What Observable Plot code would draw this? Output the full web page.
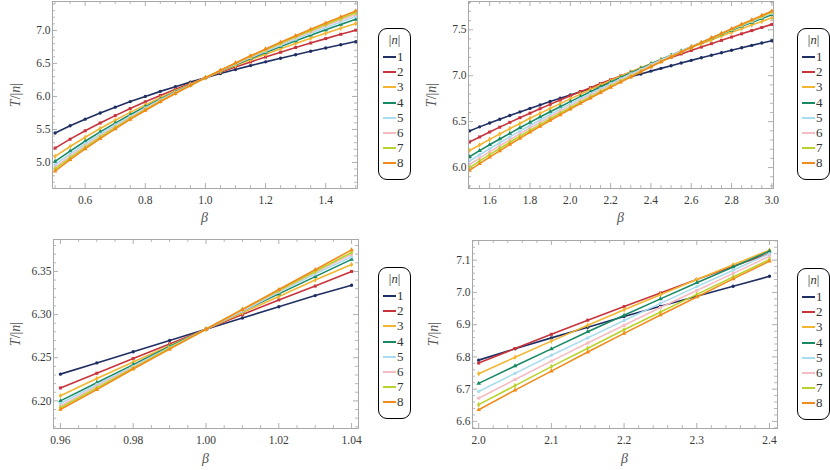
<!DOCTYPE html>
<html><head><meta charset="utf-8">
<script src="https://cdn.jsdelivr.net/npm/d3@7"></script>
<script src="https://cdn.jsdelivr.net/npm/@observablehq/plot@0.6"></script>
<style>
html,body{margin:0;padding:0;background:#fff}
body{width:830px;height:470px;position:relative;overflow:hidden;font-family:"Liberation Serif","DejaVu Serif",serif}
.panel{position:absolute}
.panel svg text{font-family:"Liberation Serif","DejaVu Serif",serif !important;font-size:11.5px !important;fill:#3a3a3a}
.legend{position:absolute;border:1.3px solid #000;border-radius:9px;box-sizing:border-box;background:#fff;width:33px;height:152px}
.legend .ttl{position:absolute;left:0;width:100%;text-align:center;font-size:12.5px;color:#333}
.legend .it{position:absolute;left:4px;font-size:13px;color:#333;line-height:12px}
.legend .sw{display:inline-block;width:13px;height:2px;vertical-align:middle;margin-right:1px;position:relative;top:-1px}
.xl{position:absolute;font-style:italic;font-size:14px;color:#555;transform:translateX(-50%)}
.yl{position:absolute;font-size:14px;color:#555;transform:translate(-50%,-50%) rotate(-90deg);white-space:nowrap}
</style>
</head><body>
<script>
// ---------- data ----------
const nValues = [1, 2, 3, 4, 5, 6, 7, 8];
const nColors = ["#1f2f63", "#c8343c", "#f2b632", "#178a63", "#a9dcf0", "#f6bcc3", "#b9d32c", "#f28a1a"];
const nSymbols = ["circle", "square", "diamond", "triangle", "circle", "square", "diamond", "triangle"];

// panel A: beta 0.5 .. 1.5
const betaA = [0.5,0.55,0.6,0.65,0.7,0.75,0.8,0.85,0.9,0.95,1.0,1.05,1.1,1.15,1.2,1.25,1.3,1.35,1.4,1.45,1.5];
const TA_n1 = [5.447,5.556,5.656,5.750,5.838,5.922,6.001,6.077,6.148,6.217,6.283,6.347,6.408,6.467,6.524,6.579,6.632,6.684,6.734,6.783,6.831];
const TA_n2 = [5.218,5.353,5.480,5.598,5.710,5.817,5.919,6.016,6.108,6.197,6.283,6.366,6.446,6.523,6.598,6.670,6.741,6.809,6.876,6.941,7.004];
const TA_n3 = [5.093,5.242,5.382,5.515,5.640,5.759,5.872,5.981,6.086,6.186,6.283,6.377,6.467,6.555,6.640,6.722,6.803,6.881,6.957,7.032,7.104];
const TA_n4 = [5.016,5.173,5.322,5.463,5.596,5.722,5.844,5.960,6.072,6.179,6.283,6.384,6.481,6.575,6.667,6.756,6.842,6.927,7.009,7.090,7.168];
const TA_n5 = [4.967,5.130,5.284,5.430,5.568,5.699,5.826,5.946,6.063,6.175,6.283,6.388,6.489,6.588,6.684,6.777,6.868,6.956,7.042,7.127,7.209];
const TA_n6 = [4.930,5.097,5.255,5.404,5.546,5.681,5.811,5.936,6.056,6.171,6.283,6.391,6.496,6.598,6.697,6.793,6.888,6.979,7.069,7.156,7.241];
const TA_n7 = [4.899,5.070,5.230,5.383,5.528,5.667,5.800,5.927,6.050,6.169,6.283,6.394,6.502,6.607,6.708,6.807,6.904,6.998,7.090,7.180,7.268];
const TA_n8 = [4.868,5.042,5.206,5.362,5.510,5.652,5.788,5.919,6.044,6.166,6.283,6.397,6.507,6.615,6.719,6.821,6.920,7.017,7.111,7.204,7.294];

// panel B: beta 1.5 .. 3.0
const betaB = [1.5,1.55,1.6,1.65,1.7,1.75,1.8,1.85,1.9,1.95,2.0,2.05,2.1,2.15,2.2,2.25,2.3,2.35,2.4,2.45,2.5,2.55,2.6,2.65,2.7,2.75,2.8,2.85,2.9,2.95,3.0];
const TB_n1 = [6.399,6.443,6.485,6.526,6.566,6.606,6.644,6.682,6.719,6.755,6.790,6.825,6.859,6.892,6.925,6.957,6.988,7.019,7.050,7.080,7.109,7.138,7.167,7.195,7.223,7.250,7.277,7.304,7.330,7.356,7.381];
const TB_n2 = [6.278,6.333,6.387,6.440,6.492,6.543,6.592,6.641,6.688,6.735,6.781,6.826,6.870,6.914,6.956,6.998,7.040,7.081,7.121,7.160,7.199,7.237,7.275,7.312,7.349,7.385,7.421,7.456,7.491,7.525,7.559];
const TB_n3 = [6.185,6.246,6.307,6.366,6.424,6.480,6.536,6.590,6.644,6.696,6.748,6.799,6.849,6.898,6.946,6.993,7.040,7.086,7.131,7.176,7.220,7.263,7.306,7.349,7.390,7.432,7.472,7.512,7.552,7.591,7.630];
const TB_n4 = [6.118,6.184,6.248,6.311,6.372,6.433,6.492,6.550,6.607,6.663,6.718,6.772,6.825,6.878,6.929,6.980,7.030,7.079,7.128,7.176,7.223,7.270,7.316,7.361,7.406,7.451,7.494,7.538,7.580,7.623,7.664];
const TB_n5 = [6.071,6.139,6.205,6.270,6.334,6.397,6.458,6.518,6.578,6.636,6.693,6.749,6.805,6.859,6.913,6.966,7.018,7.069,7.120,7.170,7.219,7.268,7.316,7.363,7.410,7.456,7.502,7.547,7.591,7.636,7.679];
const TB_n6 = [6.033,6.103,6.171,6.238,6.303,6.367,6.430,6.492,6.553,6.613,6.672,6.730,6.787,6.843,6.898,6.953,7.006,7.059,7.112,7.163,7.214,7.264,7.314,7.363,7.411,7.459,7.506,7.552,7.599,7.644,7.689];
const TB_n7 = [5.999,6.070,6.140,6.208,6.275,6.341,6.405,6.468,6.531,6.592,6.652,6.711,6.770,6.827,6.884,6.939,6.994,7.048,7.102,7.155,7.207,7.258,7.309,7.359,7.409,7.458,7.506,7.554,7.601,7.648,7.694];
const TB_n8 = [5.969,6.042,6.113,6.182,6.251,6.318,6.384,6.448,6.512,6.574,6.636,6.697,6.756,6.815,6.873,6.930,6.986,7.042,7.097,7.151,7.204,7.257,7.309,7.360,7.411,7.461,7.511,7.560,7.608,7.656,7.704];

// panel C: beta 0.96 .. 1.04
const betaC = [0.96,0.97,0.98,0.99,1.00,1.01,1.02,1.03,1.04];
const TC_n1 = [6.231,6.244,6.257,6.270,6.283,6.296,6.309,6.322,6.334];
const TC_n2 = [6.215,6.232,6.249,6.266,6.283,6.300,6.317,6.333,6.350];
const TC_n3 = [6.206,6.226,6.245,6.264,6.283,6.302,6.321,6.340,6.358];
const TC_n4 = [6.200,6.221,6.242,6.263,6.283,6.304,6.324,6.344,6.364];
const TC_n5 = [6.197,6.219,6.240,6.262,6.283,6.304,6.326,6.347,6.367];
const TC_n6 = [6.194,6.217,6.239,6.261,6.283,6.305,6.327,6.349,6.370];
const TC_n7 = [6.192,6.215,6.238,6.261,6.283,6.306,6.328,6.350,6.372];
const TC_n8 = [6.190,6.213,6.237,6.260,6.283,6.306,6.329,6.352,6.375];

// panel D is the zoom of panel B on beta 2.0 .. 2.4
const betaDRange = [2.0, 2.4];

// tick labels
const xTicksA = [0.6, 0.8, 1.0, 1.2, 1.4];
const yTicksA = [5.0, 5.5, 6.0, 6.5, 7.0];
const xTicksB = [1.6, 1.8, 2.0, 2.2, 2.4, 2.6, 2.8, 3.0];
const yTicksB = [6.0, 6.5, 7.0, 7.5];
const xTicksC = [0.96, 0.98, 1.00, 1.02, 1.04];
const yTicksC = [6.20, 6.25, 6.30, 6.35];
const xTicksD = [2.0, 2.1, 2.2, 2.3, 2.4];
const yTicksD = [6.6, 6.7, 6.8, 6.9, 7.0, 7.1];

// ---------- build ----------
function rowsFrom(betas, series) {
  const rows = [];
  series.forEach((vals, i) => vals.forEach((t, j) => rows.push({b: betas[j], t, n: nValues[i]})));
  return rows;
}
const rowsA = rowsFrom(betaA, [TA_n1, TA_n2, TA_n3, TA_n4, TA_n5, TA_n6, TA_n7, TA_n8]);
const rowsB = rowsFrom(betaB, [TB_n1, TB_n2, TB_n3, TB_n4, TB_n5, TB_n6, TB_n7, TB_n8]);
const rowsC = rowsFrom(betaC, [TC_n1, TC_n2, TC_n3, TC_n4, TC_n5, TC_n6, TC_n7, TC_n8]);
const rowsD = rowsB.filter(d => d.b >= betaDRange[0] - 1e-9 && d.b <= betaDRange[1] + 1e-9);

function minorTicks(dom, step) {
  const out = [];
  const s = Math.ceil(dom[0] / step - 1e-9), e = Math.floor(dom[1] / step + 1e-9);
  for (let k = s; k <= e; k++) out.push(+(k * step).toFixed(6));
  return out;
}

function panel(cfg) {
  const W = 370, H = 235;
  const fw = W - cfg.ml - cfg.mr, fh = H - cfg.mt - cfg.mb;
  const tickCol = "#9a9a9a";
  const inDom = (dom) => (v) => v >= Math.min(...dom) && v <= Math.max(...dom);
  const xMin = minorTicks(cfg.xd, cfg.xMinorStep).filter(v => !cfg.xt.some(m => Math.abs(m - v) < 1e-9)).filter(inDom(cfg.xd));
  const yMin = minorTicks(cfg.yd, cfg.yMinorStep).filter(v => !cfg.yt.some(m => Math.abs(m - v) < 1e-9)).filter(inDom(cfg.yd));
  const xMaj = cfg.xt, yMaj = cfg.yt;
  const marks = [
    Plot.ruleX(xMaj, {x: d => d, insetTop: fh - 5, stroke: tickCol, strokeWidth: 0.8}),
    Plot.ruleX(xMaj, {x: d => d, insetBottom: fh - 5, stroke: tickCol, strokeWidth: 0.8}),
    Plot.ruleX(xMin, {x: d => d, insetTop: fh - 3, stroke: tickCol, strokeWidth: 0.7}),
    Plot.ruleX(xMin, {x: d => d, insetBottom: fh - 3, stroke: tickCol, strokeWidth: 0.7}),
    Plot.ruleY(yMaj, {y: d => d, insetRight: fw - 5, stroke: tickCol, strokeWidth: 0.8}),
    Plot.ruleY(yMaj, {y: d => d, insetLeft: fw - 5, stroke: tickCol, strokeWidth: 0.8}),
    Plot.ruleY(yMin, {y: d => d, insetRight: fw - 3, stroke: tickCol, strokeWidth: 0.7}),
    Plot.ruleY(yMin, {y: d => d, insetLeft: fw - 3, stroke: tickCol, strokeWidth: 0.7})
  ];
  nValues.forEach(n => {
    const sub = cfg.rows.filter(d => d.n === n);
    marks.push(Plot.line(sub, {x: "b", y: "t", stroke: "n", strokeWidth: 1.6, clip: true}));
    marks.push(Plot.dot(sub, {x: "b", y: "t", fill: "n", symbol: "n", r: 1.7, clip: true}));
  });
  marks.push(Plot.frame({stroke: "#a8a8a8", strokeWidth: 1}));
  const svg = Plot.plot({
    width: W, height: H,
    marginLeft: cfg.ml, marginRight: cfg.mr, marginTop: cfg.mt, marginBottom: cfg.mb,
    style: "font-family: 'Liberation Serif', 'DejaVu Serif', serif; font-size: 11.5px; color: #3a3a3a; background: transparent; overflow: visible;",
    x: {domain: cfg.xd, ticks: xMaj, tickFormat: cfg.xf, tickSize: 0, tickPadding: 7, label: null},
    y: {domain: cfg.yd, ticks: yMaj, tickFormat: cfg.yf, tickSize: 0, tickPadding: 2, label: null},
    color: {type: "ordinal", domain: nValues, range: nColors},
    symbol: {domain: nValues, range: nSymbols},
    marks
  });
  const div = document.createElement("div");
  div.className = "panel";
  div.style.left = cfg.left + "px";
  div.style.top = cfg.top + "px";
  div.appendChild(svg);
  document.body.appendChild(div);

  // axis titles
  const xl = document.createElement("div");
  xl.className = "xl";
  xl.textContent = "β";
  xl.style.left = (cfg.left + cfg.ml + fw / 2) + "px";
  xl.style.top = (cfg.top + cfg.xlY) + "px";
  document.body.appendChild(xl);
  const yl = document.createElement("div");
  yl.className = "yl";
  yl.innerHTML = "<i>T</i>/|<i>n</i>|";
  yl.style.left = (cfg.left + cfg.ylX) + "px";
  yl.style.top = (cfg.top + cfg.mt + fh / 2) + "px";
  document.body.appendChild(yl);

  // legend
  const lg = document.createElement("div");
  lg.className = "legend";
  lg.style.left = cfg.lgX + "px";
  lg.style.top = cfg.lgY + "px";
  let html = '<div class="ttl" style="top:4px">|<i>n</i>|</div>';
  nValues.forEach((n, i) => {
    html += `<div class="it" style="top:${22 + i * 15.2}px"><span class="sw" style="background:${nColors[i]}"></span>${n}</div>`;
  });
  lg.innerHTML = html;
  document.body.appendChild(lg);
}

const f1 = d3.format(".1f"), f2 = d3.format(".2f");

panel({left: 0, top: 0, ml: 52, mr: 13, mt: 1, mb: 47,
  xd: [0.4914, 1.5057], yd: [4.606, 7.438], xt: xTicksA, yt: yTicksA, xf: f1, yf: f1,
  xMinorStep: 0.05, yMinorStep: 0.1, rows: rowsA, xlY: 210, ylX: 16, lgX: 378, lgY: 28});

panel({left: 415, top: 0, ml: 53, mr: 12, mt: 1, mb: 47,
  xd: [1.495, 3.008], yd: [5.772, 7.808], xt: xTicksB, yt: yTicksB, xf: f1, yf: f1,
  xMinorStep: 0.05, yMinorStep: 0.1, rows: rowsB, xlY: 210, ylX: 17, lgX: 797, lgY: 28});

panel({left: 0, top: 235, ml: 53, mr: 12, mt: 4, mb: 42,
  xd: [0.9581, 1.0419], yd: [6.168, 6.387], xt: xTicksC, yt: yTicksC, xf: f2, yf: f2,
  xMinorStep: 0.005, yMinorStep: 0.01, rows: rowsC, xlY: 216, ylX: 16, lgX: 378, lgY: 267});

panel({left: 415, top: 235, ml: 57, mr: 8, mt: 5, mb: 42,
  xd: [1.9915, 2.411], yd: [6.578, 7.161], xt: xTicksD, yt: yTicksD, xf: f1, yf: f1,
  xMinorStep: 0.02, yMinorStep: 0.02, rows: rowsD, xlY: 216, ylX: 19, lgX: 797, lgY: 268});
</script>
</body></html>
